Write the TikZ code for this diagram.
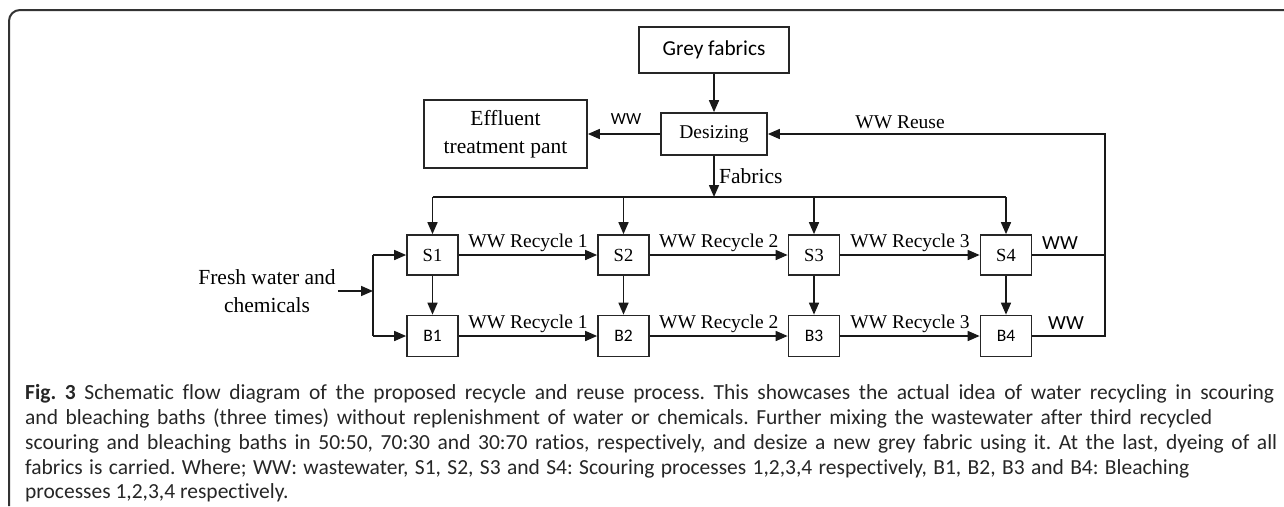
\documentclass[tikz,border=0pt]{standalone}
\usepackage{fontspec}
\setmainfont{Liberation Serif}
\newfontfamily\calib{Carlito}
\newfontfamily\calibcap[Ligatures=NoCommon]{Carlito}
\usetikzlibrary{arrows.meta}
\frenchspacing
\newcommand\capline[2]{\hbox to #1pt{\spaceskip=0.25em plus 1em minus 0.12em\relax #2}}
\tikzset{
  box/.style={draw=black!85, line width=1.7pt, inner sep=0pt, anchor=center},
  sbox/.style={box, minimum width=51pt, minimum height=40pt, font=\fontsize{18.5}{22}\selectfont},
  bbox/.style={box, minimum width=51pt, minimum height=41pt, font=\calib\fontsize{17.5}{21}\selectfont},
  arr/.style={-{Triangle[length=12pt,width=10pt]}, line width=1.6pt, draw=black!90},
  ln/.style={line width=1.6pt, draw=black!90},
  serifA/.style={font=\fontsize{21.5}{28}\selectfont},
  serifB/.style={font=\fontsize{19.5}{24}\selectfont},
  sansA/.style={font=\calib\fontsize{21.3}{26}\selectfont},
  rec/.style={font=\fontsize{19.5}{24}\selectfont, inner sep=0pt, anchor=base},
  capt/.style={font=\calibcap\fontsize{21.5}{25}\selectfont, inner sep=0pt, anchor=base west, text=black!85}
}
\begin{document}
\begin{tikzpicture}[x=1pt, y=-1pt]
\useasboundingbox (0,0) rectangle (1284,506);
% frame
\draw[line width=2pt, black!80, rounded corners=11pt] (9,506) -- (9,10) -- (1284,10);
% top nodes
\node[box, minimum width=150pt, minimum height=46pt, sansA] (grey) at (714,50) {Grey fabrics};
\node[box, minimum width=106pt, minimum height=42pt, serifB] (des) at (714,134) {Desizing};
\node[box, minimum width=163pt, minimum height=68pt, serifA, align=center] (eff) at (505.5,134) {Effluent\\treatment pant};
% process boxes
\node[sbox] (S1) at (432.5,255) {S1};
\node[sbox] (S2) at (623.5,255) {S2};
\node[sbox] (S3) at (814,255) {S3};
\node[sbox] (S4) at (1006,255) {S4};
\node[bbox] (B1) at (432.5,336) {B1};
\node[bbox] (B2) at (623.5,336) {B2};
\node[bbox] (B3) at (814,336) {B3};
\node[bbox] (B4) at (1006,336) {B4};
% fresh water
\node[serifA, align=center, inner sep=2pt] (fresh) at (267,291) {Fresh water and\\chemicals};
\coordinate (br) at (373,292);
% coordinates
\coordinate (fab) at (714,197);
\coordinate (rtop) at (1105,134);
% connectors top
\draw[arr] (grey) -- (des);
\draw[arr] (des.west) -- (eff.east);
\node[font=\calib\fontsize{17}{20}\selectfont, inner sep=0pt] (wwa) at (626,119) {WW};
\draw[arr] (des.south) -- (fab);
\node[serifA, anchor=west, inner sep=0pt] (fabl) at (719,176) {Fabrics};
\draw[ln] (S1.north |- fab) -- (S4.north |- fab);
\foreach \s in {S1,S2,S3,S4} \draw[arr] (\s.north |- fab) -- (\s.north);
% fresh water branch
\draw[arr] (fresh.east) -- (fresh.east -| br);
\draw[ln] (S1.west -| br) -- (B1.west -| br);
\draw[arr] (S1.west -| br) -- (S1.west);
\draw[arr] (B1.west -| br) -- (B1.west);
% vertical S to B
\foreach \k in {1,2,3,4} \draw[arr] (S\k.south) -- (B\k.north);
% recycle arrows
\draw[arr] (S1) -- (S2) node[rec, midway, yshift=8pt] {WW Recycle 1};
\draw[arr] (S2) -- (S3) node[rec, midway, yshift=8pt] {WW Recycle 2};
\draw[arr] (S3) -- (S4) node[rec, midway, yshift=8pt] {WW Recycle 3};
\draw[arr] (B1) -- (B2) node[rec, midway, yshift=8pt] {WW Recycle 1};
\draw[arr] (B2) -- (B3) node[rec, midway, yshift=8pt] {WW Recycle 2};
\draw[arr] (B3) -- (B4) node[rec, midway, yshift=8pt] {WW Recycle 3};
% reuse loop
\draw[ln] (S4.east) -- (S4.east -| rtop);
\draw[arr] (B4.east) -| (rtop) -- (des.east);
\node[font=\calib\fontsize{20}{24}\selectfont, inner sep=0pt] (ws4) at (1060,243) {WW};
\node[font=\calib\fontsize{20}{24}\selectfont, inner sep=0pt] (wb4) at (1066,323) {WW};
\node[serifB, inner sep=0pt] (reuse) at (900,122) {WW Reuse};
% caption
\node[capt] (c1) at (25,399) {\capline{1249}{\textbf{Fig. 3} Schematic flow diagram of the proposed recycle and reuse process. This showcases the actual idea of water recycling in scouring}};
\node[capt] (c2) at (25,424) {\capline{1187}{and bleaching baths (three times) without replenishment of water or chemicals. Further mixing the wastewater after third recycled}};
\node[capt] (c3) at (25,449) {\capline{1252}{scouring and bleaching baths in 50:50, 70:30 and 30:70 ratios, respectively, and desize a new grey fabric using it. At the last, dyeing of all}};
\node[capt] (c4) at (25,474) {\capline{1164}{fabrics is carried. Where; WW: wastewater, S1, S2, S3 and S4: Scouring processes 1,2,3,4 respectively, B1, B2, B3 and B4: Bleaching}};
\node[capt] (c5) at (25,498) {processes 1,2,3,4 respectively.};
\end{tikzpicture}
\end{document}
